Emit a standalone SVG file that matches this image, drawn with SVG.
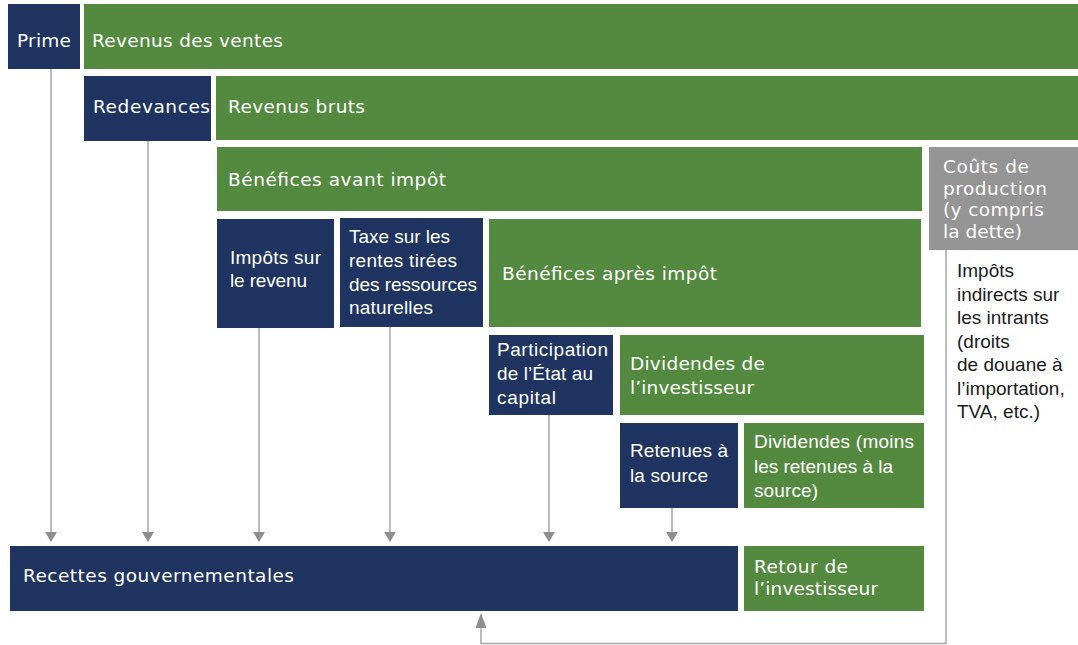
<svg xmlns="http://www.w3.org/2000/svg" width="1078" height="645" viewBox="0 0 1078 645">
<style>
.navy{fill:#1f3461}
.green{fill:#548a3f}
.gray{fill:#959595}
.w{fill:#ffffff;font-family:"DejaVu Sans",sans-serif;font-size:18.5px}
.n{fill:#ffffff;font-family:"Liberation Sans",Arial,sans-serif;font-size:19px}
.k{fill:#1a1a1a;font-family:"Liberation Sans",Arial,sans-serif;font-size:19px}
.ln{stroke:#a6a6a6;stroke-width:1.5;fill:none}
.ah{fill:#8e8e8e}
</style>
<g id="connectors">
<line class="ln" x1="51" y1="69" x2="51" y2="534"/>
<path class="ah" d="M45,532 L57,532 L51,542 Z"/>
<line class="ln" x1="148" y1="141" x2="148" y2="534"/>
<path class="ah" d="M142,532 L154,532 L148,542 Z"/>
<line class="ln" x1="259" y1="328" x2="259" y2="534"/>
<path class="ah" d="M253,532 L265,532 L259,542 Z"/>
<line class="ln" x1="390" y1="327" x2="390" y2="534"/>
<path class="ah" d="M384,532 L396,532 L390,542 Z"/>
<line class="ln" x1="549" y1="415" x2="549" y2="534"/>
<path class="ah" d="M543,532 L555,532 L549,542 Z"/>
<line class="ln" x1="672" y1="508" x2="672" y2="534"/>
<path class="ah" d="M666,532 L678,532 L672,542 Z"/>
<polyline class="ln" points="946,250 946,643.5 481,643.5 481,626"/>
<path class="ah" d="M475.5,628 L486.5,628 L481,613 Z"/>
</g>
<g id="prime"><rect class="navy" x="8" y="4" width="72" height="65"/><text class="w" x="17" y="47" textLength="54">Prime</text></g>
<g id="revenus-ventes"><rect class="green" x="84" y="4" width="994" height="65"/><text class="w" x="92" y="47" textLength="191">Revenus des ventes</text></g>
<g id="redevances"><rect class="navy" x="84" y="76" width="127" height="65"/><text class="w" x="93" y="113" textLength="117">Redevances</text></g>
<g id="revenus-bruts"><rect class="green" x="216" y="76" width="862" height="64"/><text class="w" x="228" y="113" textLength="137">Revenus bruts</text></g>
<g id="benefices-avant"><rect class="green" x="217" y="147" width="705" height="64"/><text class="w" x="228" y="186" textLength="218">Bénéfices avant impôt</text></g>
<g id="couts"><rect class="gray" x="929" y="147" width="149" height="103"/>
<text class="w" x="943" y="173" textLength="86">Coûts de</text>
<text class="w" x="943" y="194.5" textLength="104">production</text>
<text class="w" x="943" y="216" textLength="101">(y compris</text>
<text class="w" x="943" y="237.5" textLength="79">la dette)</text></g>
<g id="impots-revenu"><rect class="navy" x="217" y="219" width="117" height="109"/>
<text class="n" x="230" y="264" textLength="91">Impôts sur</text>
<text class="n" x="230" y="287" textLength="77">le revenu</text></g>
<g id="taxe-rentes"><rect class="navy" x="340" y="218" width="143" height="109"/>
<text class="n" x="349" y="243" textLength="101">Taxe sur les</text>
<text class="n" x="349" y="267" textLength="108">rentes tirées</text>
<text class="n" x="349" y="291" textLength="128">des ressources</text>
<text class="n" x="349" y="314" textLength="84">naturelles</text></g>
<g id="benefices-apres"><rect class="green" x="489" y="219" width="432" height="108"/><text class="w" x="502" y="280" textLength="215">Bénéfices après impôt</text></g>
<g id="participation"><rect class="navy" x="489" y="335" width="124" height="80"/>
<text class="n" x="497" y="356" textLength="111">Participation</text>
<text class="n" x="497" y="380" textLength="96">de l’État au</text>
<text class="n" x="497" y="404" textLength="59">capital</text></g>
<g id="dividendes-investisseur"><rect class="green" x="620" y="335" width="304" height="80"/>
<text class="w" x="630" y="370" textLength="135">Dividendes de</text>
<text class="w" x="630" y="394" textLength="124">l’investisseur</text></g>
<g id="retenues"><rect class="navy" x="620" y="423" width="118" height="85"/>
<text class="n" x="630" y="457" textLength="98">Retenues à</text>
<text class="n" x="630" y="482" textLength="78">la source</text></g>
<g id="dividendes-moins"><rect class="green" x="744" y="423" width="180" height="85"/>
<text class="n" x="754" y="448" textLength="160">Dividendes (moins</text>
<text class="n" x="754" y="473" textLength="139">les retenues à la</text>
<text class="n" x="754" y="497" textLength="64">source)</text></g>
<g id="recettes"><rect class="navy" x="10" y="546" width="728" height="65"/><text class="w" x="23" y="582" textLength="271">Recettes gouvernementales</text></g>
<g id="retour"><rect class="green" x="744" y="546" width="180" height="65"/>
<text class="w" x="754" y="573" textLength="94">Retour de</text>
<text class="w" x="754" y="595" textLength="124">l’investisseur</text></g>
<g id="impots-indirects">
<text class="k" x="957" y="277">Impôts</text>
<text class="k" x="957" y="300.5">indirects sur</text>
<text class="k" x="957" y="324">les intrants</text>
<text class="k" x="957" y="347.5">(droits</text>
<text class="k" x="957" y="371">de douane à</text>
<text class="k" x="957" y="394.5">l’importation,</text>
<text class="k" x="957" y="418">TVA, etc.)</text>
</g>
</svg>
